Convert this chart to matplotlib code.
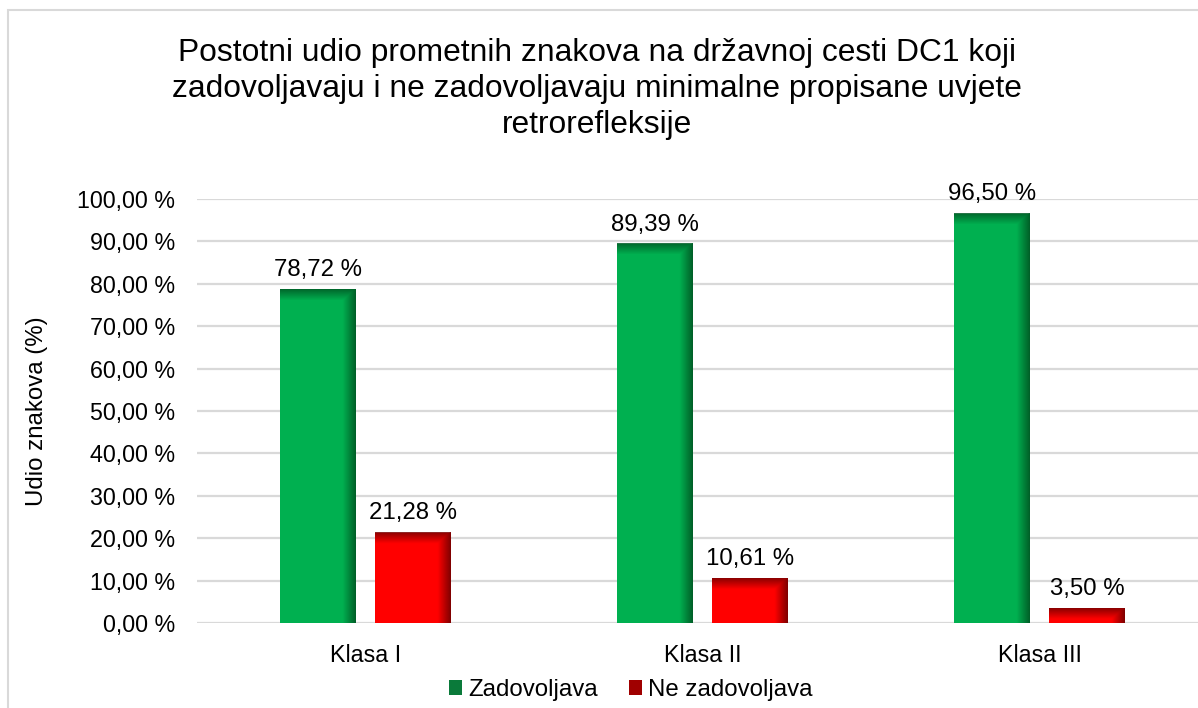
import matplotlib
matplotlib.use("Agg")
import matplotlib.pyplot as plt
import numpy as np
from matplotlib.patches import Rectangle, Patch
from matplotlib.colors import to_rgb

plt.rcParams['font.family'] = ['Liberation Sans', 'DejaVu Sans']

categories = ["Klasa I", "Klasa II", "Klasa III"]
zadovoljava = [78.72, 89.39, 96.50]
ne_zadovoljava = [21.28, 10.61, 3.50]
series_names = ["Zadovoljava", "Ne zadovoljava"]
yticks = [0, 10, 20, 30, 40, 50, 60, 70, 80, 90, 100]
title = ("Postotni udio prometnih znakova na državnoj cesti DC1 koji\n"
         "zadovoljavaju i ne zadovoljavaju minimalne propisane uvjete\n"
         "retrorefleksije")
ylabel = "Udio znakova (%)"

W, H = 1198, 708
DPI = 100
PT = 72 / DPI  # px -> pt

def fmt(v):
    return f"{v:.2f}".replace(".", ",") + " %"

fig = plt.figure(figsize=(W / DPI, H / DPI), dpi=DPI)
ax = fig.add_axes([197 / W, 1 - 623 / H, (W - 197) / W, (623 - 199) / H])

x = np.arange(len(categories))
bw = 0.225
off = 0.142

colors = [("#00B050", "#005C26"), ("#FF0000", "#7A0000")]
series = [zadovoljava, ne_zadovoljava]
offsets = [-off, off]

for vals, (base, dark), o in zip(series, colors, offsets):
    bars = ax.bar(x + o, vals, width=bw, color=base, zorder=2, linewidth=0)
    dr = np.array(to_rgb(dark))
    for b, v in zip(bars, vals):
        x0, y0 = b.get_x(), b.get_y()
        x1, y1 = x0 + b.get_width(), y0 + b.get_height()
        wpx = 76
        hpx = max(v * 4.24, 2)
        nx, ny = 80, max(int(hpx), 4)
        xs = np.linspace(0, 1, nx)[None, :] * wpx
        ys = np.linspace(0, 1, ny)[:, None] * hpx  # 0 at top
        fr = np.clip((xs - (wpx - 13)) / 13, 0, 1) * 0.95
        ft = np.clip(1 - ys / 11, 0, 1) * 0.85
        a = np.maximum(fr, ft)
        img = np.zeros((ny, nx, 4))
        img[..., :3] = dr
        img[..., 3] = a
        ax.imshow(img, extent=(x0, x1, y0, y1), origin='upper', aspect='auto',
                  interpolation='bilinear', zorder=3)
        ax.text(b.get_x() + b.get_width() / 2, v + 2.0, fmt(v),
                ha='center', va='bottom', fontsize=24 * PT, color='#000000', zorder=4)

ax.set_xlim(-0.5, -0.5 + (W - 197) / 337)
ax.set_ylim(0, 100)
ax.set_yticks(yticks)
ax.set_yticklabels([fmt(t) for t in yticks], fontsize=23.3 * PT)
ax.set_xticks(x)
ax.set_xticklabels(categories, fontsize=23.3 * PT)
ax.tick_params(axis='x', length=0, pad=15)
ax.tick_params(axis='y', length=0, pad=16)
ax.grid(axis='y', color='#D9D9D9', linewidth=1.6, zorder=0)
ax.set_axisbelow(True)
for s in ax.spines.values():
    s.set_visible(False)
ax.set_ylabel(ylabel, fontsize=24 * PT)
ax.yaxis.set_label_coords((48 - 197) / (W - 197), 0.5)

fig.text(597 / W, 1 - 89 / H, title, ha='center', va='center',
         fontsize=31.8 * PT, linespacing=1.27)

handles = [Patch(facecolor="#0A7A3A", edgecolor='none'),
           Patch(facecolor="#A00000", edgecolor='none')]
fig.legend(handles, series_names, loc='center', bbox_to_anchor=(631 / W, 1 - 690 / H),
           ncol=2, frameon=False, fontsize=24 * PT, handlelength=0.55, handleheight=0.55,
           handletextpad=0.25, columnspacing=1.3)

fig.patches.append(Rectangle((8 / W, -0.1), 1.2, 1.1 - 10 / H, transform=fig.transFigure,
                             fill=False, edgecolor='#D9D9D9', linewidth=1.5))

fig.savefig("out.png", dpi=DPI)
